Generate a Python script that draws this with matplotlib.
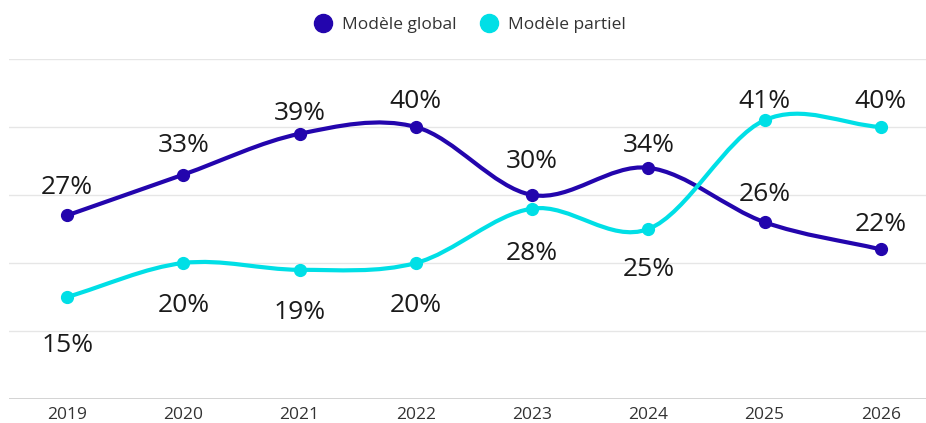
import numpy as np
import matplotlib.pyplot as plt
from matplotlib.path import Path
from matplotlib.patches import PathPatch
from matplotlib.lines import Line2D

plt.rcParams['font.family'] = ['Open Sans', 'DejaVu Sans']

years = ['2019', '2020', '2021', '2022', '2023', '2024', '2025', '2026']
global_vals = [27, 33, 39, 40, 30, 34, 26, 22]
partial_vals = [15, 20, 19, 20, 28, 25, 41, 40]

# label offsets in pixels from the point (positive = above)
global_off = [30, 31, 22, 27, 35, 24, 30, 27]
partial_off = [-46, -40, -41, -40, -43, -38, 21, 28]

c_global = '#2305ad'
c_partial = '#00dfe6'


def spline_path(xs, ys):
    # Catmull-Rom style spline drawn as cubic bezier segments
    n = len(xs)
    m = []
    for i in range(n):
        if i == 0:
            m.append((ys[1] - ys[0]) / (xs[1] - xs[0]))
        elif i == n - 1:
            m.append((ys[-1] - ys[-2]) / (xs[-1] - xs[-2]))
        else:
            m.append((ys[i + 1] - ys[i - 1]) / (xs[i + 1] - xs[i - 1]))
    verts = [(xs[0], ys[0])]
    codes = [Path.MOVETO]
    for i in range(1, n):
        h = xs[i] - xs[i - 1]
        verts += [(xs[i - 1] + h / 3, ys[i - 1] + m[i - 1] * h / 3),
                  (xs[i] - h / 3, ys[i] - m[i] * h / 3),
                  (xs[i], ys[i])]
        codes += [Path.CURVE4] * 3
    return Path(verts, codes)


fig = plt.figure(figsize=(9.26, 4.23), dpi=100)
ax = fig.add_axes([9 / 926, 24 / 423, 930 / 926, 340 / 423])
x = np.arange(len(years))
ax.set_xlim(-0.5, len(years) - 0.5)
ax.set_ylim(0, 50)

for gy in [10, 20, 30, 40, 50]:
    ax.axhline(gy, color='#e6e6e6', lw=1, zorder=0)
ax.axhline(0, color='#cccccc', lw=1.2, zorder=0)

for vals, col, offs in [(global_vals, c_global, global_off),
                        (partial_vals, c_partial, partial_off)]:
    p = spline_path(list(x), vals)
    ax.add_patch(PathPatch(p, facecolor='none', edgecolor=col, lw=3,
                           capstyle='round', zorder=2))
    ax.plot(x, vals, 'o', color=col, ms=8.5, zorder=3)
    for xi, v, o in zip(x, vals, offs):
        ax.annotate(f'{v}%', (xi, v), xytext=(0, o - 2),
                    textcoords='offset pixels', ha='center', va='center',
                    fontsize=19, color='#1a1a1a', zorder=4)

for s in ax.spines.values():
    s.set_visible(False)
ax.set_yticks([])
ax.set_xticks(x)
ax.set_xticklabels(years, fontsize=12.5, color='#333333')
ax.tick_params(axis='x', length=0, pad=6)

handles = [Line2D([], [], marker='o', ls='none', color=c_global, ms=13),
           Line2D([], [], marker='o', ls='none', color=c_partial, ms=13)]
fig.legend(handles, ['Modèle global', 'Modèle partiel'], loc='center',
           bbox_to_anchor=(470 / 926, 1 - 25 / 423), ncol=2, frameon=False,
           fontsize=12.5, handletextpad=0.6, columnspacing=1.4,
           handlelength=1.0, labelcolor='#333333')

fig.savefig('out.png', dpi=100)
